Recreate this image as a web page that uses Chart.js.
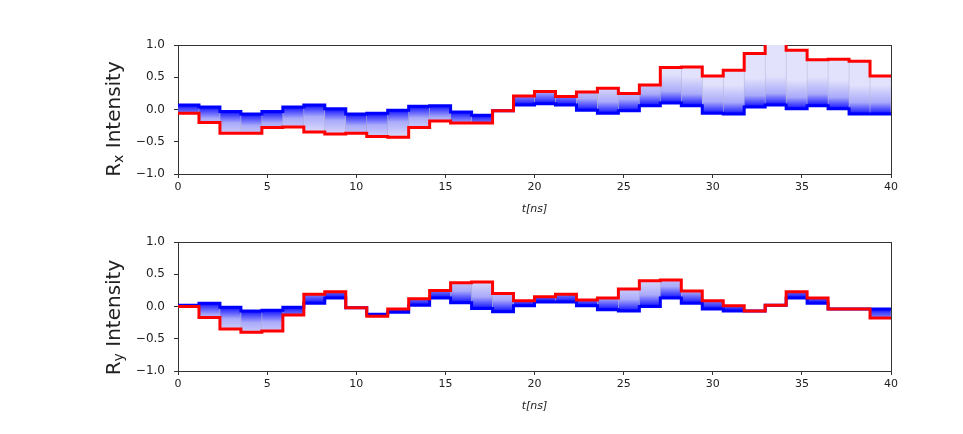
<!DOCTYPE html>
<html><head><meta charset="utf-8">
<script src="https://cdn.jsdelivr.net/npm/chart.js@4.4.0/dist/chart.umd.min.js"></script>
<style>
html,body{margin:0;padding:0;background:#fff;}
#wrap{position:relative;width:963px;height:434px;overflow:hidden;background:#fff;}
.panel{position:absolute;left:0;width:963px;height:217px;}
</style></head><body>
<div id="wrap">
<div class="panel" style="top:0"><canvas id="c1"></canvas></div>
<div class="panel" style="top:217px"><canvas id="c2"></canvas></div>
</div>
<script>
// ---- data ----
const T_MIN = 0, T_MAX = 40, N_BINS = 34;
const xTickStep = 5;
const yTickStep = 0.5;
const xLabel = 't[ns]';

const blueX = [0.07,0.04,-0.03,-0.07,-0.03,0.04,0.07,0.01,-0.07,-0.06,-0.01,0.05,0.06,-0.04,-0.09,-0.02,0.07,0.09,0.07,-0.01,-0.06,-0.02,0.06,0.10,0.06,-0.06,-0.07,0.04,0.07,0.01,0.06,0.01,-0.07,-0.07];
const redX  = [-0.06,-0.20,-0.37,-0.37,-0.28,-0.27,-0.35,-0.38,-0.37,-0.42,-0.43,-0.28,-0.18,-0.21,-0.21,-0.02,0.21,0.28,0.20,0.27,0.33,0.25,0.38,0.65,0.66,0.52,0.61,0.87,1.05,0.92,0.77,0.78,0.75,0.52];

const blueY = [0.02,0.05,-0.01,-0.07,-0.06,-0.01,0.05,0.13,-0.02,-0.12,-0.09,0.02,0.13,0.06,-0.03,-0.08,0.01,0.07,0.07,0.01,-0.05,-0.07,0.00,0.13,0.05,-0.04,-0.07,-0.07,0.02,0.13,0.05,-0.04,-0.04,-0.04];
const redY  = [0.00,-0.17,-0.35,-0.40,-0.38,-0.13,0.19,0.23,-0.02,-0.15,-0.04,0.12,0.25,0.37,0.38,0.20,0.09,0.15,0.19,0.10,0.13,0.27,0.40,0.41,0.24,0.09,0.01,-0.07,0.02,0.23,0.13,-0.04,-0.04,-0.18];

// ---- helpers ----
const binW = (T_MAX - T_MIN) / N_BINS;
function stepPoints(vals){
  const pts = vals.map((v,i)=>({x: T_MIN + i*binW, y: v}));
  pts.push({x: T_MAX, y: vals[vals.length-1]});
  return pts;
}
function barPoints(lo, hi){
  return lo.map((v,i)=>({x: T_MIN + (i+0.5)*binW, y: [v, hi[i]]}));
}
function fillFor(lo, hi){
  return (c)=>{
    const chart = c.chart, ys = chart.scales && chart.scales.y;
    if (!ys || !chart.chartArea || c.dataIndex == null) return 'rgb(200,200,250)';
    const i = c.dataIndex;
    const yB = ys.getPixelForValue(lo[i]);
    const yR = ys.getPixelForValue(hi[i]);
    const dir = Math.sign(yR - yB);
    if (!dir) return 'rgb(0,0,255)';
    const span = Math.abs(ys.getPixelForValue(0) - ys.getPixelForValue(0.45));
    const g = chart.ctx.createLinearGradient(0, yB, 0, yB + dir*span);
    g.addColorStop(0, 'rgb(0,0,255)');
    g.addColorStop(0.1, 'rgb(55,55,255)');
    g.addColorStop(0.4, 'rgb(170,170,250)');
    g.addColorStop(1, 'rgb(226,226,252)');
    return g;
  };
}
const fmtY = v => (Math.abs(v) < 1e-9 ? 0 : v).toFixed(1).replace('-', '\u2212');
const FONT = '"DejaVu Sans", sans-serif';

function yLabelPlugin(sub, centerY){
  return {
    id: 'ylab',
    afterDraw(chart){
      const ctx = chart.ctx;
      ctx.save();
      ctx.fillStyle = '#222';
      const big = '20px ' + FONT, small = '14px ' + FONT;
      ctx.font = big;
      const wR = ctx.measureText('R').width;
      const wI = ctx.measureText(' Intensity').width;
      ctx.font = small;
      const wS = ctx.measureText(sub).width;
      const total = wR + wS + wI;
      ctx.translate(120, centerY);
      ctx.rotate(-Math.PI/2);
      ctx.textBaseline = 'alphabetic';
      ctx.textAlign = 'left';
      let x = -total/2;
      ctx.font = big; ctx.fillText('R', x, 0); x += wR;
      ctx.font = small; ctx.fillText(sub, x, 3); x += wS;
      ctx.font = big; ctx.fillText(' Intensity', x, 0);
      ctx.restore();
    }
  };
}

function makeChart(id, lo, hi, sub, padTop, padBottom, labelCenter){
  return new Chart(document.getElementById(id), {
    type: 'bar',
    data: {
      datasets: [
        { type: 'line', data: stepPoints(hi), stepped: true, borderColor: '#ff0000', borderWidth: 3,
          pointRadius: 0, fill: false, order: 0, borderJoinStyle: 'miter', borderCapStyle: 'butt' },
        { type: 'line', data: stepPoints(lo), stepped: true, borderColor: '#0000ff', borderWidth: 3,
          pointRadius: 0, fill: false, order: 1, borderJoinStyle: 'miter', borderCapStyle: 'butt' },
        { type: 'bar', data: barPoints(lo, hi), backgroundColor: fillFor(lo, hi),
          borderColor: 'rgba(110,110,180,0.45)', borderWidth: {left: 0.6, right: 0.6, top: 0, bottom: 0},
          borderSkipped: false, barPercentage: 1, categoryPercentage: 1, grouped: false, order: 2 }
      ]
    },
    options: {
      responsive: true, maintainAspectRatio: false, animation: false,
      layout: { padding: { left: 118, right: 72, top: padTop, bottom: padBottom } },
      plugins: { legend: { display: false }, tooltip: { enabled: false } },
      scales: {
        x: { type: 'linear', min: T_MIN, max: T_MAX, offset: false,
          afterFit: s => { s.height = 43; },
          ticks: { stepSize: xTickStep, autoSkip: false, maxRotation: 0, padding: 3, color: '#222',
                   font: { family: FONT, size: 11 }, callback: v => String(v) },
          grid: { display: true, drawOnChartArea: false, drawTicks: true, tickLength: 4, color: '#333', offset: false },
          border: { display: true, color: '#333', width: 1 },
          title: { display: true, text: xLabel, color: '#222',
                   font: { family: FONT, size: 11, style: 'italic' }, padding: { top: 0, bottom: 1 } } },
        y: { type: 'linear', min: -1, max: 1,
          afterFit: s => { s.width = 60; },
          ticks: { stepSize: yTickStep, padding: 9, color: '#222', font: { family: FONT, size: 12 }, callback: fmtY },
          grid: { display: true, drawOnChartArea: false, drawTicks: true, tickLength: 4, color: '#333' },
          border: { display: true, color: '#333', width: 1 } },
        x2: { type: 'linear', position: 'top', min: T_MIN, max: T_MAX, display: true,
          afterFit: s => { s.height = 0; },
          ticks: { display: false }, grid: { display: false },
          border: { display: true, color: '#333', width: 1 } },
        y2: { type: 'linear', position: 'right', min: -1, max: 1, display: true,
          afterFit: s => { s.width = 0; },
          ticks: { display: false }, grid: { display: false },
          border: { display: true, color: '#333', width: 1 } }
      }
    },
    plugins: [ yLabelPlugin(sub, labelCenter) ]
  });
}

makeChart('c1', blueX, redX, 'x', 45, 0, 119);
makeChart('c2', blueY, redY, 'y', 25, 20, 100.5);
</script>
</body></html>
